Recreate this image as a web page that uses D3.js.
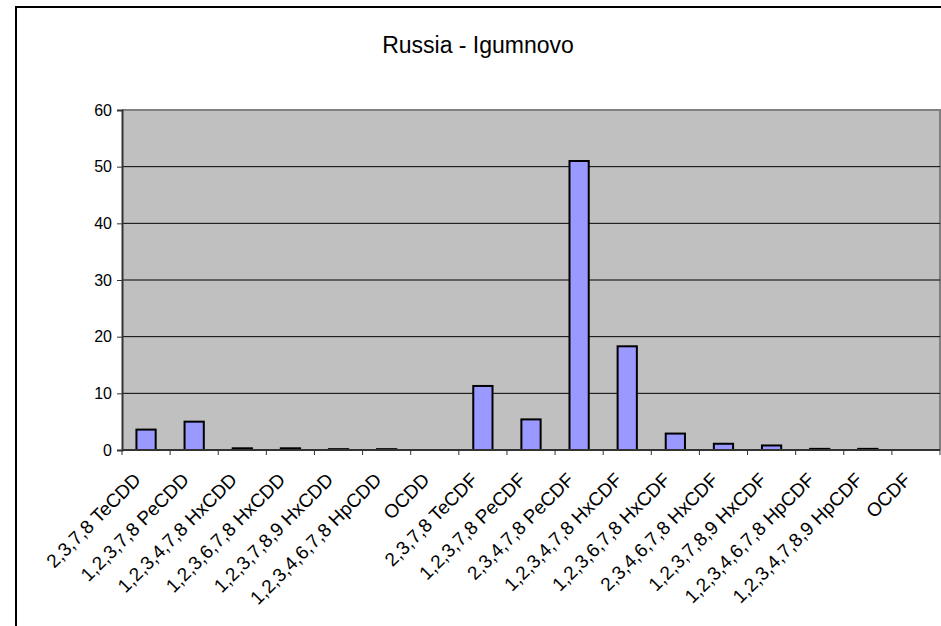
<!DOCTYPE html>
<html>
<head>
<meta charset="utf-8">
<script src="https://cdn.jsdelivr.net/npm/d3@7"></script>
<style>
  body { margin: 0; background: #fff; }
  svg { display: block; font-family: "Liberation Sans", Arial, sans-serif; }
</style>
</head>
<body>
<svg width="941" height="626"></svg>
<script>
// congener names along the x axis
var congeners = ["2,3,7,8 TeCDD", "1,2,3,7,8 PeCDD", "1,2,3,4,7,8 HxCDD", "1,2,3,6,7,8 HxCDD",
  "1,2,3,7,8,9 HxCDD", "1,2,3,4,6,7,8 HpCDD", "OCDD", "2,3,7,8 TeCDF", "1,2,3,7,8 PeCDF",
  "2,3,4,7,8 PeCDF", "1,2,3,4,7,8 HxCDF", "1,2,3,6,7,8 HxCDF", "2,3,4,6,7,8 HxCDF",
  "1,2,3,7,8,9 HxCDF", "1,2,3,4,6,7,8 HpCDF", "1,2,3,4,7,8,9 HpCDF", "OCDF"];
var values = [3.6, 5.0, 0.3, 0.3, 0.15, 0.15, 0, 11.3, 5.4, 51, 18.3, 2.9, 1.1, 0.8, 0.2, 0.2, 0];
var yTicks = [0, 10, 20, 30, 40, 50, 60];
var title = "Russia - Igumnovo";

var svg = d3.select("svg");

// outer chart frame (runs off the right and bottom of the picture)
svg.append("rect")
  .attr("x", 16).attr("y", 7)
  .attr("width", 1000).attr("height", 1000)
  .attr("fill", "#fff")
  .attr("stroke", "#000").attr("stroke-width", 2);

svg.append("text")
  .attr("x", 478).attr("y", 53)
  .attr("text-anchor", "middle")
  .attr("font-size", 23)
  .text(title);

var pLeft = 122, pRight = 940, pTop = 110, pBottom = 450;

var xb = d3.scaleBand().domain(congeners).range([pLeft, pRight]);
var barW = xb.step() * 0.4;
var y = d3.scaleLinear().domain([0, 60]).range([pBottom, pTop]);

// plot area
svg.append("rect")
  .attr("x", pLeft).attr("y", pTop)
  .attr("width", pRight - pLeft).attr("height", pBottom - pTop)
  .attr("fill", "#c0c0c0");
svg.append("path")
  .attr("d", "M" + pLeft + "," + pTop + "H" + pRight + "V" + pBottom)
  .attr("fill", "none").attr("stroke", "#808080").attr("stroke-width", 2);

// gridlines
svg.append("g").selectAll("line")
  .data(yTicks.filter(function (d) { return d > 0 && d < 60; }))
  .enter().append("line")
  .attr("x1", pLeft).attr("x2", pRight)
  .attr("y1", function (d) { return y(d); })
  .attr("y2", function (d) { return y(d); })
  .attr("stroke", "#000").attr("stroke-width", 1);

// bars
var rows = congeners.map(function (c, i) { return { name: c, v: values[i] }; });
svg.append("g").selectAll("rect")
  .data(rows.filter(function (d) { return d.v > 0; }))
  .enter().append("rect")
  .attr("x", function (d) { return xb(d.name) + (xb.step() - barW) / 2; })
  .attr("y", function (d) { return y(d.v); })
  .attr("width", barW)
  .attr("height", function (d) { return pBottom - y(d.v); })
  .attr("fill", "#9999ff")
  .attr("stroke", "#000").attr("stroke-width", 2);

// y axis
var yAxis = svg.append("g")
  .attr("transform", "translate(" + pLeft + ",0)")
  .call(d3.axisLeft(y).tickValues(yTicks).tickSize(5).tickPadding(5));
yAxis.select(".domain").attr("stroke", "#333").attr("stroke-width", 2);
yAxis.selectAll(".tick line").attr("stroke", "#333");
yAxis.selectAll("text").attr("font-size", 16).attr("font-family", "Liberation Sans, Arial, sans-serif").attr("fill", "#000");

// x axis: ticks on category boundaries
var xAxis = svg.append("g").attr("transform", "translate(0," + pBottom + ")");
xAxis.append("line").attr("x1", pLeft).attr("x2", pRight).attr("stroke", "#333").attr("stroke-width", 2);
xAxis.selectAll("line.tk")
  .data(congeners.concat(["end"]))
  .enter().append("line").attr("class", "tk")
  .attr("x1", function (d, i) { return pLeft + i * xb.step(); })
  .attr("x2", function (d, i) { return pLeft + i * xb.step(); })
  .attr("y1", 0).attr("y2", 5)
  .attr("stroke", "#333");

xAxis.selectAll("text")
  .data(congeners)
  .enter().append("text")
  .attr("transform", function (d) {
    return "translate(" + (xb(d) + xb.bandwidth() / 2 - 4) + ",31) rotate(-45)";
  })
  .attr("text-anchor", "end")
  .attr("font-size", 19)
  .text(function (d) { return d; });
</script>
</body>
</html>
